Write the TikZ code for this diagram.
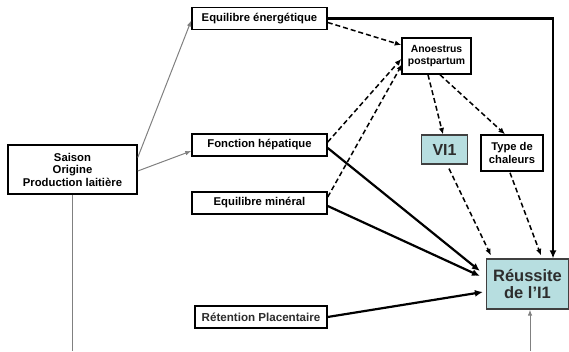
\documentclass[tikz,border=0pt]{standalone}
\usepackage{fontspec}
\setmainfont{Liberation Sans}
\usetikzlibrary{arrows.meta,calc}
\definecolor{teal1}{RGB}{183,222,224}
\definecolor{grayln}{RGB}{128,128,128}
\definecolor{txtdark}{RGB}{45,45,45}
\tikzset{
  box/.style={draw=black,line width=1.5pt,fill=white,inner sep=0pt,align=center,font=\fontsize{11.3}{12.5}\selectfont\bfseries},
  tealbox/.style={box,fill=teal1,line width=1.2pt,draw=black!75,text=txtdark},
  thickarr/.style={line width=2.2pt,-{Latex[length=8pt,width=7pt]}},
  dasharr/.style={line width=1.5pt,dash pattern=on 5pt off 3pt,-{Latex[length=6.5pt,width=5.5pt]}},
  grayarr/.style={draw=grayln,line width=1pt,-{Latex[length=6pt,width=4.5pt]}},
}
\begin{document}
\begin{tikzpicture}[x=1pt,y=-1pt]
\useasboundingbox (0,0) rectangle (569,351);
\node[box,minimum width=129pt,minimum height=49pt] (saison) at (72.5,169.5) {Saison\\Origine\\Production laitière};
\node[box,minimum width=135pt,minimum height=22pt] (ener) at (259.5,18.5) {Equilibre énergétique};
\node[box,minimum width=69pt,minimum height=36pt,font=\fontsize{10.4}{11.7}\selectfont\bfseries] (anoe) at (436.5,56) {Anoestrus\\postpartum};
\node[box,minimum width=135pt,minimum height=22pt] (fonc) at (259.5,145) {Fonction hépatique};
\node[box,minimum width=135pt,minimum height=22pt] (mine) at (259.5,203) {Equilibre minéral};
\node[tealbox,minimum width=46pt,minimum height=29pt,font=\fontsize{16}{17}\selectfont\bfseries] (vi) at (444.5,149.5) {VI1};
\node[box,minimum width=62pt,minimum height=36pt,font=\fontsize{11.2}{12.5}\selectfont\bfseries] (type) at (512,153) {Type de\\chaleurs};
\node[tealbox,minimum width=82pt,minimum height=50pt,font=\fontsize{16.5}{17.5}\selectfont\bfseries] (reus) at (527.5,284) {Réussite\\de l’I1};
\node[box,line width=1.1pt,minimum width=132pt,minimum height=22pt,text=txtdark,font=\fontsize{11.6}{13}\selectfont\bfseries] (ret) at (261,317) {Rétention Placentaire};
\coordinate (sbot) at (72.5,351);
\coordinate (rbot) at (530,351);
% gray
\draw[grayarr] ($(saison.east)+(0,-12)$) -- ($(ener.west)+(0,2)$);
\draw[grayarr] ($(saison.east)+(0,1.5)$) -- ($(fonc.west)+(0,6)$);
\draw[draw=grayln,line width=1pt] (saison.south) -- (sbot);
\draw[grayarr] (rbot) -- ($(reus.south)+(2.5,0)$);
% thick
\draw[thickarr] (ener.east) -| ($(reus.north)+(25.5,0)$);
\draw[thickarr] ($(fonc.east)+(0,3)$) -- ($(reus.west)+(-6,-13)$);
\draw[thickarr] ($(mine.east)+(0,3)$) -- ($(reus.west)+(-6,-8)$);
\draw[thickarr] (ret.east) -- ($(reus.west)+(-3,8)$);
% dashed
\draw[dasharr] ($(ener.east)+(0,4)$) -- ($(anoe.west)+(0,-11)$);
\draw[dasharr] ($(fonc.east)+(0,-3)$) -- ($(anoe.west)+(0,3)$);
\draw[dasharr] ($(mine.east)+(0,-6)$) -- ($(anoe.west)+(1,8)$);
\draw[dasharr] ($(anoe.south)+(-8.5,0)$) -- ($(vi.north)+(-1.5,0)$);
\draw[dasharr] ($(anoe.south)+(3.5,0)$) -- ($(type.north)+(-7,0)$);
\draw[dasharr] ($(vi.south)+(4.5,4)$) -- ($(reus.north west)+(5,-3)$);
\draw[dasharr] ($(type.south)+(-2,1)$) -- ($(reus.north)+(13.5,-3)$);
\end{tikzpicture}
\end{document}
